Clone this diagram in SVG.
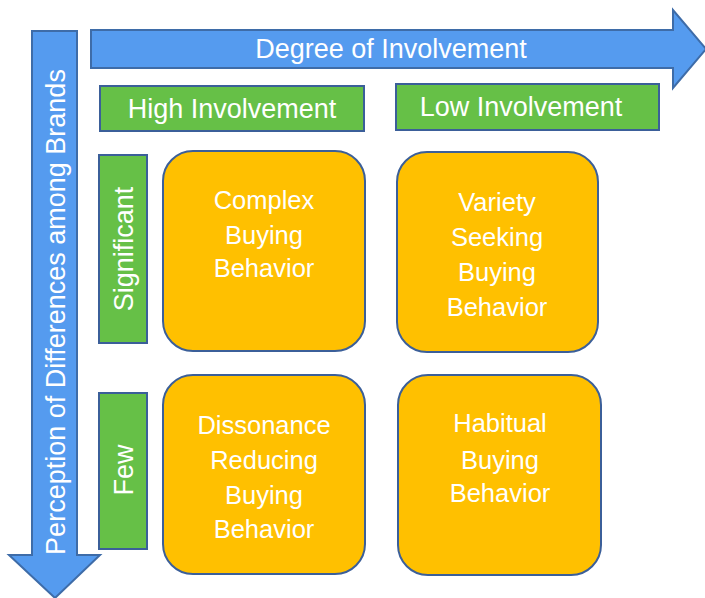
<svg xmlns="http://www.w3.org/2000/svg" width="705" height="598" viewBox="0 0 705 598">
<style>
.arrow{fill:#559BEF;stroke:#3E6CA8;stroke-width:2}
.lbl{fill:#66C047;stroke:#3B5F99;stroke-width:2}
.box{fill:#FFC000;stroke:#3B5F99;stroke-width:2}
text{font-family:"Liberation Sans",Arial,sans-serif;fill:#FFFFFF;text-anchor:middle;dominant-baseline:central}
.t{font-size:27px}
.b{font-size:25.5px}
</style>
<rect width="705" height="598" fill="#FFFFFF"/>
<g id="connectors">
<g id="h-arrow">
<path class="arrow" d="M91,30 H673 V10 L706,49 L673,88 V68 H91 Z"/>
<text class="t" x="391" y="49">Degree of Involvement</text>
</g>
<g id="v-arrow">
<path class="arrow" d="M32,31 H77 V555 H100 L55,598 L9,555 H32 Z"/>
<text class="t" transform="translate(56,312) rotate(-90)">Perception of Differences among Brands</text>
</g>
</g>
<g id="high">
<rect class="lbl" x="100" y="86" width="264" height="45"/>
<text class="t" x="232" y="109">High Involvement</text>
</g>
<g id="low">
<rect class="lbl" x="396" y="84" width="263" height="46"/>
<text class="t" x="521" y="107">Low Involvement</text>
</g>
<g id="significant">
<rect class="lbl" x="99" y="155" width="48" height="188"/>
<text class="t" transform="translate(124,249) rotate(-90)">Significant</text>
</g>
<g id="few">
<rect class="lbl" x="99" y="393" width="48" height="156"/>
<text class="t" transform="translate(124,470) rotate(-90)">Few</text>
</g>
<g id="complex">
<rect class="box" x="163" y="151" width="202" height="200" rx="30"/>
<text class="b" x="264" y="200">Complex</text>
<text class="b" x="264" y="235">Buying</text>
<text class="b" x="264" y="268">Behavior</text>
</g>
<g id="variety">
<rect class="box" x="397" y="152" width="201" height="200" rx="30"/>
<text class="b" x="497" y="202">Variety</text>
<text class="b" x="497" y="237">Seeking</text>
<text class="b" x="497" y="272">Buying</text>
<text class="b" x="497" y="307">Behavior</text>
</g>
<g id="dissonance">
<rect class="box" x="163" y="375" width="202" height="199" rx="30"/>
<text class="b" x="264" y="425">Dissonance</text>
<text class="b" x="264" y="460">Reducing</text>
<text class="b" x="264" y="495">Buying</text>
<text class="b" x="264" y="529">Behavior</text>
</g>
<g id="habitual">
<rect class="box" x="398" y="375" width="203" height="200" rx="30"/>
<text class="b" x="500" y="423">Habitual</text>
<text class="b" x="500" y="460">Buying</text>
<text class="b" x="500" y="493">Behavior</text>
</g>
</svg>
